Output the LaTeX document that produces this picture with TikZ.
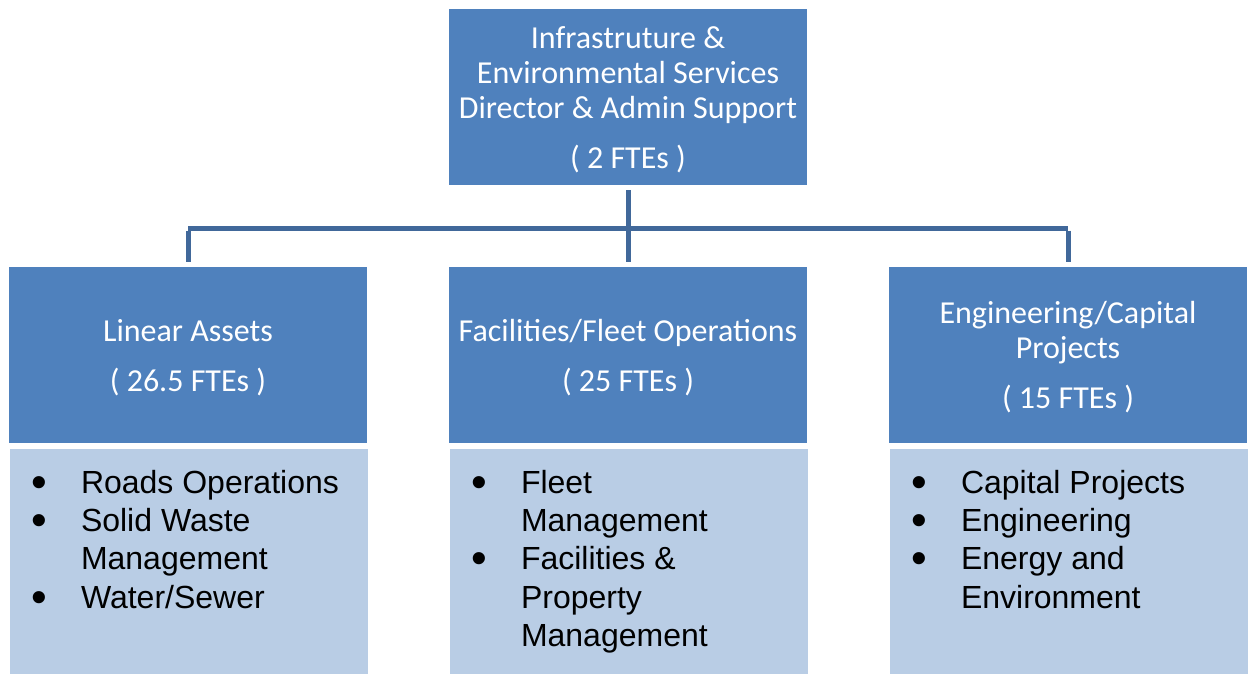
\documentclass[tikz,border=0pt]{standalone}
\usepackage{fontspec}
\setmainfont{Carlito}
\newfontfamily\listfont{Liberation Sans}
\definecolor{headblue}{HTML}{4F81BD}
\definecolor{listblue}{HTML}{B9CDE5}
\definecolor{lineblue}{HTML}{41689A}
\begin{document}
\begin{tikzpicture}[x=1pt,y=-1pt,
  head/.style={fill=headblue,draw=none,minimum width=358pt,minimum height=176pt,inner sep=0pt},
  headtext/.style={inner sep=0pt,text=white,align=center,
    font=\fontsize{32}{35}\selectfont},
  listbox/.style={fill=listblue,draw=none,minimum width=358pt,minimum height=225pt,inner sep=0pt},
  listtext/.style={anchor=north west,inner sep=0pt,align=left,
    font=\listfont\fontsize{32}{38.3}\selectfont},
  conn/.style={draw=lineblue,line width=5pt}]
\useasboundingbox (0,0) rectangle (1250,674);
\fill[white] (0,0) rectangle (1250,674);
\newcommand\bul[1]{\makebox[48pt][l]{\hspace*{-1.5pt}\raisebox{-4pt}{\scalebox{1.4}{\textbullet}}}#1}
\newcommand\cont[1]{\hspace*{48pt}#1}
% top
\node[head] (top) at (628,97) {};
\node[headtext] (topt) at ([yshift=-2.5pt]top.center) {Infrastruture \&\\Environmental Services\\Director \& Admin Support\\[15pt]( 2 FTEs )};
% middle row
\node[head] (m1) at (188,355) {};
\node[head] (m2) at (628,355) {};
\node[head] (m3) at (1068,355) {};
\node[headtext] (m1t) at ([yshift=-2.5pt]m1.center) {Linear Assets\\[15pt]( 26.5 FTEs )};
\node[headtext] (m2t) at ([yshift=-2.5pt]m2.center) {Facilities/Fleet Operations\\[15pt]( 25 FTEs )};
\node[headtext] (m3t) at ([yshift=-2.5pt]m3.center) {Engineering/Capital\\Projects\\[15pt]( 15 FTEs )};
% lower boxes
\node[listbox] (l1) at (189,561.5) {};
\node[listbox] (l2) at (629,561.5) {};
\node[listbox] (l3) at (1069,561.5) {};
\node[listtext] (t1) at ([xshift=23pt,yshift=-21pt]l1.north west) {\bul{Roads Operations}\\\bul{Solid Waste}\\\cont{Management}\\\bul{Water/Sewer}};
\node[listtext] (t2) at ([xshift=23pt,yshift=-21pt]l2.north west) {\bul{Fleet}\\\cont{Management}\\\bul{Facilities \&}\\\cont{Property}\\\cont{Management}};
\node[listtext] (t3) at ([xshift=23pt,yshift=-21pt]l3.north west) {\bul{Capital Projects}\\\bul{Engineering}\\\bul{Energy and}\\\cont{Environment}};
% connectors
\coordinate (hub) at (628,228);
\draw[conn,shorten <=5pt,shorten >=5pt] (top.south) -- (m2.north);
\draw[conn] (m1.north |- hub) -- (m3.north |- hub);
\draw[conn,shorten >=5pt] ([yshift=-2.5pt]m1.north |- hub) -- (m1.north);
\draw[conn,shorten >=5pt] ([yshift=-2.5pt]m3.north |- hub) -- (m3.north);
\end{tikzpicture}
\end{document}
